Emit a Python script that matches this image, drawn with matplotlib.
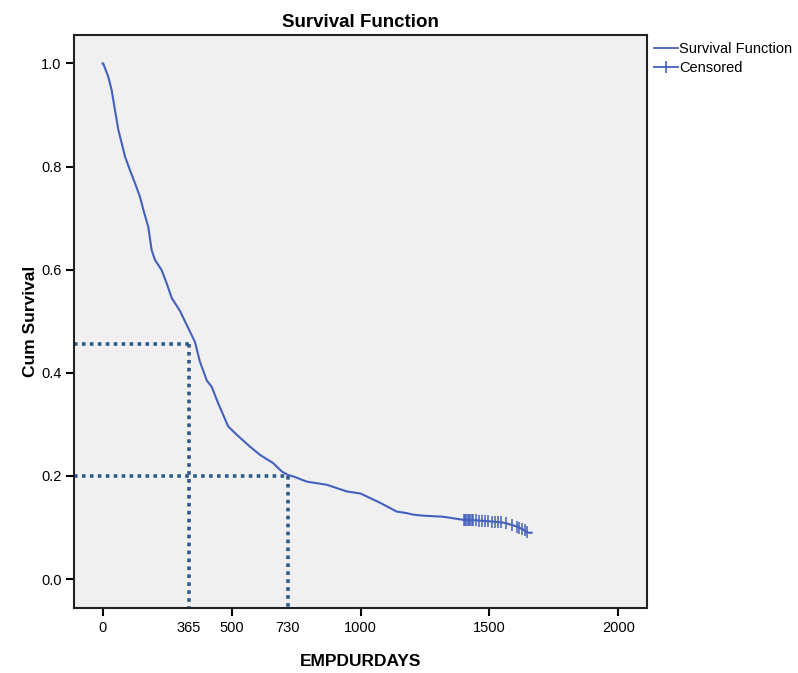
import numpy as np
import matplotlib
matplotlib.use("Agg")
import matplotlib.pyplot as plt
from matplotlib.lines import Line2D

plt.rcParams['font.family'] = ['Liberation Sans', 'DejaVu Sans']

# Kaplan-Meier survival values
times = [0, 2, 22, 35, 48, 61, 74, 87, 106, 126, 145, 158, 177, 190, 203, 229,
         248, 268, 300, 326, 358, 377, 404, 423, 448, 487, 520, 571, 610, 661,
         694, 718, 740, 792, 869, 947, 1000, 1076, 1114, 1140, 1179, 1204, 1243,
         1320, 1359, 1398, 1450, 1500, 1549, 1567, 1606, 1631, 1650, 1664]
surv = [1.0, 1.0, 0.974, 0.948, 0.909, 0.871, 0.845, 0.819, 0.793, 0.767, 0.741,
        0.716, 0.683, 0.638, 0.619, 0.599, 0.574, 0.545, 0.52, 0.493, 0.460, 0.422,
        0.385, 0.373, 0.341, 0.296, 0.280, 0.257, 0.241, 0.225, 0.209, 0.202,
        0.199, 0.189, 0.183, 0.170, 0.166, 0.148, 0.138, 0.131, 0.128, 0.125,
        0.123, 0.121, 0.118, 0.115, 0.114, 0.112, 0.110, 0.108, 0.102, 0.096,
        0.090, 0.090]
censor_times = [1400, 1405, 1410, 1415, 1420, 1426, 1432, 1438, 1448, 1460, 1472,
                1484, 1496, 1508, 1520, 1532, 1545, 1565, 1588, 1606, 1616, 1626,
                1636, 1646]

# reference lines (drawn position, label)
ref_x = [335, 718]
ref_labels = ["365", "730"]
ref_y = [0.456, 0.200]

times = np.array(times)
surv = np.array(surv)
censor_surv = np.interp(censor_times, times, surv)

fig = plt.figure(figsize=(7.98, 6.73), dpi=100)
ax = fig.add_axes([74/798, 1-608/673, (647-74)/798, (608-35)/673])
ax.set_facecolor('#f0f0f0')

line_col = '#4360bd'
ax.plot(times, surv, color=line_col, lw=1.5)
ax.plot(censor_times, censor_surv, ls='none', marker='|', ms=9, mew=1.1,
        color=line_col)

xmin, xmax = -111, 2111
ymin, ymax = -0.056, 1.055
dot_col = '#2e5a8a'
for xr, yr in zip(ref_x, ref_y):
    ax.plot([xmin, xr], [yr, yr], ls=(0, (1, 1.2)), color=dot_col, lw=2.6)
    ax.plot([xr, xr], [yr, ymin], ls=(0, (1, 1.2)), color=dot_col, lw=2.6)

for xr, lab in zip(ref_x, ref_labels):
    ax.annotate(lab, xy=(xr, 0), xycoords=('data', 'axes fraction'),
                xytext=(0, -9), textcoords='offset points',
                ha='center', va='top', fontsize=10.5)

ax.set_xlim(xmin, xmax)
ax.set_ylim(ymin, ymax)
ax.set_xticks([0, 500, 1000, 1500, 2000])
ax.set_yticks([0.0, 0.2, 0.4, 0.6, 0.8, 1.0])
ax.set_yticklabels(["0.0", "0.2", "0.4", "0.6", "0.8", "1.0"])
ax.tick_params(labelsize=10.5, length=6, width=1.5, direction='out', pad=3)
for s in ax.spines.values():
    s.set_linewidth(1.5)
    s.set_color('#222222')

ax.set_title("Survival Function", fontsize=13.5, fontweight='bold', pad=6)
ax.set_xlabel("EMPDURDAYS", fontsize=12.5, fontweight='bold', labelpad=14)
ax.set_ylabel("Cum Survival", fontsize=12.5, fontweight='bold', labelpad=2)

handles = [Line2D([], [], color=line_col, lw=1.3),
           Line2D([], [], color=line_col, lw=1.3, marker='|', ms=9, mew=1.2)]
ax.legend(handles, ["Survival Function", "Censored"], loc='upper left',
          bbox_to_anchor=(1.0, 1.0), frameon=False, fontsize=10.5,
          handlelength=1.6, handletextpad=0.1, borderaxespad=0.1,
          labelspacing=0.3)

fig.savefig("out.png", dpi=100, facecolor='white')
